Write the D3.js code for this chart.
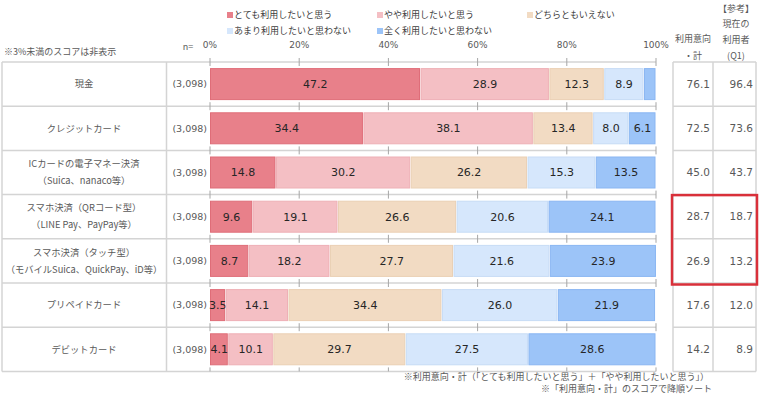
<!DOCTYPE html>
<html><head><meta charset="utf-8">
<script src="https://cdn.jsdelivr.net/npm/d3@7"></script>
<style>
html,body{margin:0;padding:0;background:#fff;}
svg text{font-family:"Noto Sans CJK JP","Noto Sans",sans-serif;}
.num{font-family:"DejaVu Sans",Verdana,sans-serif;}
</style></head>
<body>
<svg id="chart" width="760" height="395"></svg>
<script>
const categories = [
  ["現金"],
  ["クレジットカード"],
  ["ICカードの電子マネー決済","（Suica、nanaco等）"],
  ["スマホ決済（QRコード型）","（LINE Pay、PayPay等）"],
  ["スマホ決済（タッチ型）","（モバイルSuica、QuickPay、iD等）"],
  ["プリペイドカード"],
  ["デビットカード"]
];
const nValues = ["(3,098)","(3,098)","(3,098)","(3,098)","(3,098)","(3,098)","(3,098)"];
const seriesNames = ["とても利用したいと思う","やや利用したいと思う","どちらともいえない","あまり利用したいと思わない","全く利用したいと思わない"];
const seriesColors = ["#e8808a","#f4bfc4","#f2dbc3","#d6e7fc","#9cc4f8"];
const seriesStrokes = ["#df6d78","#eeb0b6","#ead0b4","#c7dcf6","#8ab6f2"];
const veryMuch   = [47.2, 34.4, 14.8,  9.6,  8.7,  3.5,  4.1];
const somewhat   = [28.9, 38.1, 30.2, 19.1, 18.2, 14.1, 10.1];
const neutral    = [12.3, 13.4, 26.2, 26.6, 27.7, 34.4, 29.7];
const notMuch    = [ 8.9,  8.0, 15.3, 20.6, 21.6, 26.0, 27.5];
const notAtAll   = [ 2.7,  6.1, 13.5, 24.1, 23.9, 21.9, 28.6];
const intentTotal = ["76.1","72.5","45.0","28.7","26.9","17.6","14.2"];
const currentUsers = ["96.4","73.6","43.7","18.7","13.2","12.0","8.9"];
const tickValues = [0,20,40,60,80,100];
const tickLabels = ["0%","20%","40%","60%","80%","100%"];

const series = [veryMuch, somewhat, neutral, notMuch, notAtAll];
const svg = d3.select("#chart");
const x = d3.scaleLinear().domain([0,100]).range([210,656]);
const y = d3.scaleBand().domain(d3.range(categories.length)).range([62,371.4]).padding(0);
const barH = 32;
const gridGray = "#d4d4d4";
const textGray = "#595959";

// legend
const legendPos = [[227,15],[377,15],[527,15],[227,31],[377,31]];
seriesNames.forEach((s,i)=>{
  const [lx,ly] = legendPos[i];
  svg.append("rect").attr("x",lx).attr("y",ly-3).attr("width",6).attr("height",6).attr("fill",seriesColors[i]);
  svg.append("text").attr("x",lx+7).attr("y",ly).attr("dy","0.35em").attr("font-size",9).attr("fill","#404040").text(s);
});

// top notes
svg.append("text").attr("x",4).attr("y",52).attr("dy","0.35em").attr("font-size",9).attr("fill",textGray).text("※3%未満のスコアは非表示");
svg.append("text").attr("x",188).attr("y",47).attr("dy","0.35em").attr("text-anchor","middle").attr("font-size",9).attr("fill",textGray).text("n=");

// axis labels
svg.selectAll(".tl").data(tickValues).enter().append("text").attr("class","num")
  .attr("x",d=>x(d)).attr("y",45).attr("dy","0.35em").attr("text-anchor","middle")
  .attr("font-size",9).attr("fill",textGray).text((d,i)=>tickLabels[i]);

// row separators (horizontal)
const borders = d3.range(categories.length+1).map(i => i<categories.length ? y(i) : y.range()[1]);
svg.selectAll(".hl").data(borders).enter().append("line")
  .attr("x1",2).attr("x2",656).attr("y1",d=>d).attr("y2",d=>d)
  .attr("stroke",gridGray).attr("stroke-width",1.5);
// left table verticals
[2,166.5].forEach(vx=>{
  svg.append("line").attr("x1",vx).attr("x2",vx).attr("y1",borders[0]).attr("y2",borders[borders.length-1])
    .attr("stroke",gridGray).attr("stroke-width",1.5);
});
// grid ticks at row borders
borders.forEach((b,bi)=>{
  tickValues.forEach(t=>{
    svg.append("line").attr("x1",x(t)).attr("x2",x(t))
      .attr("y1", b-4).attr("y2", bi===borders.length-1 ? b : b+4)
      .attr("stroke","#a6a6a6").attr("stroke-width",1);
  });
});

// bars
categories.forEach((c,ri)=>{
  const cy = y(ri)+y.bandwidth()/2;
  let acc = 0;
  series.forEach((s,si)=>{
    const v = s[ri];
    const x0 = x(acc), x1 = x(acc+v);
    svg.append("rect").attr("x",x0+0.5).attr("y",cy-barH/2+0.5)
      .attr("width",Math.max(0,x1-x0-1.5)).attr("height",barH-1)
      .attr("fill",seriesColors[si]).attr("stroke",seriesStrokes[si]).attr("stroke-width",1);
    if(v>=3){
      svg.append("text").attr("class","num").attr("x",(x0+x1)/2).attr("y",cy).attr("dy","0.36em")
        .attr("text-anchor","middle").attr("font-size",11).attr("fill","#262626").text(v.toFixed(1));
    }
    acc += v;
  });
  // category label
  const lines = c;
  lines.forEach((ln,li)=>{
    svg.append("text").attr("x",84).attr("y",cy + (li - (lines.length-1)/2)*17).attr("dy","0.35em")
      .attr("text-anchor","middle").attr("font-size",9.3).attr("fill",textGray).text(ln);
  });
  svg.append("text").attr("class","num").attr("x",207).attr("y",cy).attr("dy","0.35em")
    .attr("text-anchor","end").attr("font-size",9.5).attr("fill",textGray).text(nValues[ri]);
  // right table values
  svg.append("text").attr("class","num").attr("x",710).attr("y",cy).attr("dy","0.35em")
    .attr("text-anchor","end").attr("font-size",10.5).attr("fill",textGray).text(intentTotal[ri]);
  svg.append("text").attr("class","num").attr("x",753).attr("y",cy).attr("dy","0.35em")
    .attr("text-anchor","end").attr("font-size",10.5).attr("fill",textGray).text(currentUsers[ri]);
});

// right table
const rt = svg.append("g");
borders.forEach(b=>{
  rt.append("line").attr("x1",673).attr("x2",756).attr("y1",b).attr("y2",b).attr("stroke",gridGray).attr("stroke-width",1.5);
});
[673,713,756].forEach(vx=>{
  rt.append("line").attr("x1",vx).attr("x2",vx).attr("y1",borders[0]).attr("y2",borders[borders.length-1])
    .attr("stroke",gridGray).attr("stroke-width",1.5);
});
// headers
const hdr1 = [["利用意向",39],["・計",56]];
hdr1.forEach(([t,yy])=>svg.append("text").attr("x",693).attr("y",yy).attr("dy","0.35em").attr("text-anchor","middle").attr("font-size",9).attr("fill",textGray).text(t));
const hdr2 = [["【参考】",9],["現在の",24],["利用者",40],["(Q1)",56]];
hdr2.forEach(([t,yy])=>svg.append("text").attr("x",736).attr("y",yy).attr("dy","0.35em").attr("text-anchor","middle").attr("font-size",9).attr("fill",textGray).text(t));

// red highlight box
svg.append("rect").attr("x",672).attr("y",y(3)+0.5).attr("width",85).attr("height",y(5)-y(3)+1)
  .attr("fill","none").attr("stroke","#d9303a").attr("stroke-width",2.5);

// footnotes
svg.append("text").attr("x",709).attr("y",377).attr("dy","0.35em").attr("text-anchor","end").attr("font-size",9).attr("fill",textGray)
  .text("※利用意向・計（「とても利用したいと思う」＋「やや利用したいと思う」）");
svg.append("text").attr("x",712).attr("y",389).attr("dy","0.35em").attr("text-anchor","end").attr("font-size",9).attr("fill",textGray)
  .text("※「利用意向・計」のスコアで降順ソート");
</script>
</body></html>
